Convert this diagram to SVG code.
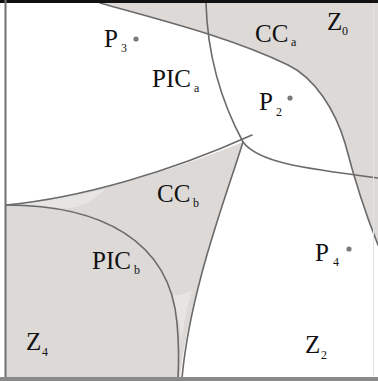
<svg xmlns="http://www.w3.org/2000/svg" width="378" height="381" viewBox="0 0 378 381">
  <style>
    .reg { fill: #dcd9d7; stroke: none; }
    .light { fill: #e7e5e4; stroke: none; }
    .ln { fill: none; stroke: #6a6a6a; stroke-width: 1.6; stroke-linecap: round; }
    .t { font-family: "Liberation Serif", "Times New Roman", serif; font-size: 25px; fill: #111; }
    .s { font-family: "Liberation Serif", "Times New Roman", serif; font-size: 12px; fill: #111; }
    .dot { fill: #7a7a7a; }
  </style>
  <rect x="0" y="0" width="378" height="381" fill="#ffffff"/>
  <g id="regions">
    <path class="reg" d="M100,3 C160,20 230,37 288,65 C315,78 335,110 345,143 C352,170 362,205 378,245 L378,3 Z"/>
    <path class="reg" d="M6,205 C80,198 170,172 243,142 C225,200 190,290 180,378 L6,378 Z"/>
    <path class="light" d="M20,204 C45,201 75,196 105,189 C95,200 80,210 60,208 C45,206 30,205 20,204 Z"/>
    <path class="light" d="M172,295 C178,296 186,294 192,290 C188,305 184,320 182,340 C180,330 178,312 172,295 Z"/>
  </g>
  <g id="connectors">
    <path class="ln" d="M100,3 C160,20 230,37 288,65 C315,78 335,110 345,143 C352,170 362,205 378,245"/>
    <path class="ln" d="M206,3 C207,40 215,90 243,142 C258,162 300,168 378,178"/>
    <path class="ln" d="M6,205 C80,198 170,172 252,135"/>
    <path class="ln" d="M243,142 C225,200 190,290 182,378"/>
    <path class="ln" d="M6,205 C100,205 170,240 177,323 C179,345 179,360 178,378"/>
  </g>
  <g id="frame">
    <line x1="0" y1="1.5" x2="378" y2="1.5" stroke="#111" stroke-width="3"/>
    <line x1="5.5" y1="0" x2="5.5" y2="378" stroke="#707070" stroke-width="2"/>
    <line x1="0" y1="379" x2="378" y2="379" stroke="#8a8a8a" stroke-width="4"/>
    <line x1="373.5" y1="3" x2="373.5" y2="377" stroke="#e4e4e4" stroke-width="1"/>
  </g>
  <g id="P3">
    <text class="t" x="104" y="47">P</text><text class="s" x="121" y="52">3</text>
    <circle class="dot" cx="136" cy="39" r="2.6"/>
  </g>
  <g id="PICa">
    <text class="t" x="152" y="87">PIC</text><text class="s" x="194" y="92">a</text>
  </g>
  <g id="CCa">
    <text class="t" x="255" y="42">CC</text><text class="s" x="291" y="46">a</text>
  </g>
  <g id="Z0">
    <text class="t" x="327" y="30">Z</text><text class="s" x="342" y="35">0</text>
  </g>
  <g id="P2">
    <text class="t" x="259" y="110">P</text><text class="s" x="276" y="116">2</text>
    <circle class="dot" cx="290" cy="98" r="2.6"/>
  </g>
  <g id="CCb">
    <text class="t" x="157" y="202">CC</text><text class="s" x="193" y="207">b</text>
  </g>
  <g id="PICb">
    <text class="t" x="92" y="269">PIC</text><text class="s" x="134" y="274">b</text>
  </g>
  <g id="P4">
    <text class="t" x="315" y="261">P</text><text class="s" x="333" y="266">4</text>
    <circle class="dot" cx="349" cy="249" r="2.6"/>
  </g>
  <g id="Z2">
    <text class="t" x="305" y="353">Z</text><text class="s" x="321" y="359">2</text>
  </g>
  <g id="Z4">
    <text class="t" x="26" y="350">Z</text><text class="s" x="42" y="356">4</text>
  </g>
</svg>
